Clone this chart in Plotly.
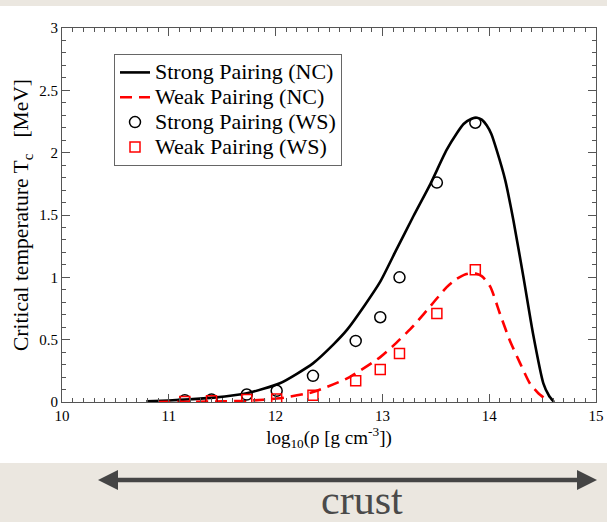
import plotly.graph_objects as go

# ---- data ----
nc_strong_x = [10.79, 11.0, 11.2, 11.42, 11.73, 12.04, 12.35, 12.54, 12.67, 12.83, 12.98, 13.13, 13.29, 13.45,
               13.60, 13.70, 13.76, 13.83, 13.886, 13.93, 13.976, 14.02, 14.07, 14.15, 14.226, 14.32, 14.41,
               14.507, 14.56, 14.607]
nc_strong_y = [0.005, 0.012, 0.022, 0.035, 0.07, 0.15, 0.31, 0.46, 0.58, 0.77, 0.965, 1.22, 1.49, 1.75,
               2.02, 2.16, 2.23, 2.27, 2.28, 2.265, 2.22, 2.15, 2.02, 1.78, 1.46, 1.005, 0.55,
               0.15, 0.05, 0.0]

nc_weak_x = [10.90, 11.2, 11.5, 11.73, 12.04, 12.35, 12.67, 12.98, 13.10, 13.29, 13.48, 13.60, 13.69,
             13.78, 13.85, 13.93, 14.01, 14.10, 14.19, 14.29, 14.38, 14.46, 14.51, 14.55]
nc_weak_y = [0.0, 0.002, 0.005, 0.01, 0.03, 0.08, 0.19, 0.36, 0.45, 0.61, 0.80, 0.92, 0.985,
             1.025, 1.035, 1.01, 0.925, 0.71, 0.50, 0.31, 0.15, 0.07, 0.035, 0.0]

ws_x = [11.15, 11.40, 11.73, 12.01, 12.35, 12.75, 12.98, 13.16, 13.51, 13.87]
ws_strong_y = [0.015, 0.02, 0.06, 0.09, 0.21, 0.49, 0.68, 1.00, 1.76, 2.24]
ws_weak_y = [0.005, 0.01, 0.02, 0.025, 0.055, 0.17, 0.26, 0.39, 0.71, 1.06]

series_names = ["Strong Pairing (NC)", "Weak Pairing (NC)", "Strong Pairing (WS)", "Weak Pairing (WS)"]

x_range = [10, 15]
y_range = [0, 3]

SERIF = "Liberation Serif, Times New Roman, serif"


def leg(name):
    return '<span style="font-size:22px">' + name + '</span>'


fig = go.Figure()
fig.add_trace(go.Scatter(x=nc_strong_x, y=nc_strong_y, mode="lines", name=leg(series_names[0]),
                         line=dict(color="black", width=2.6, shape="spline", smoothing=0.6)))
fig.add_trace(go.Scatter(x=nc_weak_x, y=nc_weak_y, mode="lines", name=leg(series_names[1]),
                         line=dict(color="#ff0000", width=2.6, dash="12px,7px", shape="spline", smoothing=0.6)))
fig.add_trace(go.Scatter(x=ws_x, y=ws_strong_y, mode="markers", name=leg(series_names[2]),
                         marker=dict(symbol="circle-open", size=11, color="black", line=dict(width=1.5))))
fig.add_trace(go.Scatter(x=ws_x, y=ws_weak_y, mode="markers", name=leg(series_names[3]),
                         marker=dict(symbol="square-open", size=10, color="#ff0000", line=dict(width=1.5))))

L, R, T, B = 62, 11, 28, 120
W, H = 607, 522
pw, ph = W - L - R, H - T - B


def px2paper_x(px):
    return (px - L) / pw


def px2paper_y(py):
    return (H - B - py) / ph


axis_common = dict(
    showline=True, linecolor="#555", linewidth=1, mirror="ticks",
    ticks="inside", ticklen=8, tickwidth=1, tickcolor="#555",
    showgrid=False, zeroline=False,
    tickfont=dict(family=SERIF, size=15, color="black"),
)

fig.update_xaxes(range=x_range, dtick=1, tick0=10,
                 minor=dict(dtick=0.1, ticks="inside", ticklen=4, tickcolor="#555", showgrid=False),
                 title=dict(text="log<sub>10</sub>(ρ [g cm<sup>-3</sup>])",
                            font=dict(family=SERIF, size=19, color="black"), standoff=6),
                 **axis_common)
fig.update_yaxes(range=y_range, dtick=0.5, tick0=0,
                 minor=dict(dtick=0.1, ticks="inside", ticklen=4, tickcolor="#555", showgrid=False),
                 title=dict(text="Critical temperature T<sub>c</sub>\u00a0\u00a0\u00a0[MeV]",
                            font=dict(family=SERIF, size=21.5, color="black"), standoff=4),
                 **axis_common)

# arrow geometry (pixels)
ay_px = 480
tip_l, base_l, base_r, tip_r = 98, 118, 577, 597
half_h = 10


def P(x, y):
    return f"{px2paper_x(x):.5f},{px2paper_y(y):.5f}"


fig.update_layout(
    width=W, height=H,
    margin=dict(l=L, r=R, t=T, b=B, autoexpand=False),
    paper_bgcolor="#ebe7e0",
    plot_bgcolor="white",
    legend=dict(x=px2paper_x(114), y=px2paper_y(54), xanchor="left", yanchor="top",
                bgcolor="white", bordercolor="#666", borderwidth=1,
                font=dict(family=SERIF, size=16.8, color="black"), itemwidth=30),
    shapes=[
        dict(type="rect", xref="paper", yref="paper", layer="below",
             x0=px2paper_x(-2), x1=px2paper_x(W + 2), y0=px2paper_y(463), y1=px2paper_y(6),
             fillcolor="white", line=dict(width=0)),
        dict(type="line", xref="paper", yref="paper",
             x0=px2paper_x(base_l - 1), x1=px2paper_x(base_r + 1), y0=px2paper_y(ay_px), y1=px2paper_y(ay_px),
             line=dict(color="#454545", width=4.5)),
        dict(type="path", xref="paper", yref="paper",
             path=f"M{P(tip_l, ay_px)} L{P(base_l, ay_px - half_h)} L{P(base_l, ay_px + half_h)} Z",
             fillcolor="#454545", line=dict(width=0)),
        dict(type="path", xref="paper", yref="paper",
             path=f"M{P(tip_r, ay_px)} L{P(base_r, ay_px - half_h)} L{P(base_r, ay_px + half_h)} Z",
             fillcolor="#454545", line=dict(width=0)),
    ],
    annotations=[
        dict(xref="paper", yref="paper", x=px2paper_x(362), y=px2paper_y(500),
             text="crust", showarrow=False, xanchor="center", yanchor="middle",
             font=dict(family=SERIF, size=42, color="#4a4a4a")),
    ],
)

fig.write_html("out.html")
